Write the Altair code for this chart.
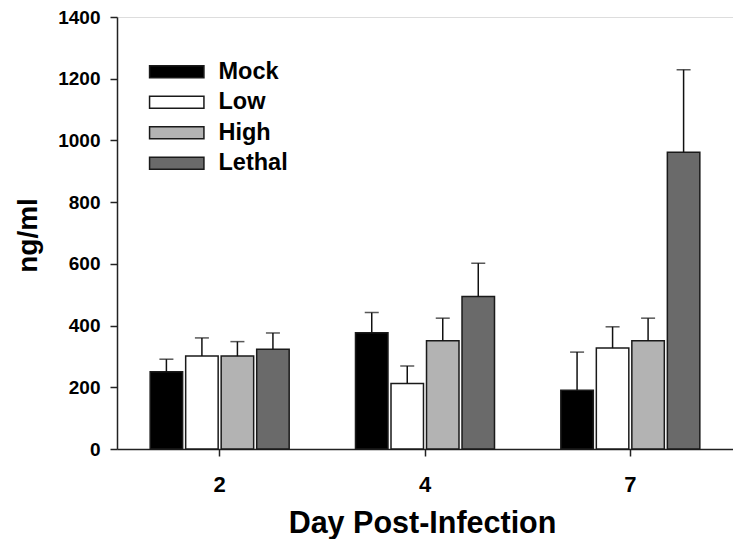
import altair as alt
import pandas as pd

days = ["2", "4", "7"]
groups = ["Mock", "Low", "High", "Lethal"]
colors = ["#000000", "#ffffff", "#b3b3b3", "#6a6a6a"]

# mean values per group, one list per day (order: Mock, Low, High, Lethal)
day2_vals = [250, 301, 301, 323]
day4_vals = [377, 212, 351, 494]
day7_vals = [190, 327, 351, 962]
# upper error bar tops
day2_tops = [291, 360, 348, 376]
day4_tops = [442, 269, 424, 602]
day7_tops = [314, 396, 424, 1229]

rows = []
for d, vals, tops in [("2", day2_vals, day2_tops), ("4", day4_vals, day4_tops), ("7", day7_vals, day7_tops)]:
    for g, v, t in zip(groups, vals, tops):
        rows.append({"day": d, "group": g, "value": v, "top": t})
df = pd.DataFrame(rows)

FONT = "Liberation Sans"

common_axis = dict(labelFont=FONT, labelFontWeight="bold", labelColor="black",
                   titleFont=FONT, titleFontWeight="bold", titleColor="black",
                   tickSize=7, tickWidth=1.5, tickColor="#222", grid=False,
                   domainColor="#222", domainWidth=1.5)

x = alt.X("day:N", sort=days,
          scale=alt.Scale(paddingInner=0.323, paddingOuter=0.1615),
          axis=alt.Axis(title="Day Post-Infection", labelAngle=0, labelFontSize=22,
                        labelPadding=18, titleFontSize=30.5,
                        titleX=305, titleAlign="center",
                        titleY=83, titleBaseline="alphabetic", **common_axis))
xo = alt.XOffset("group:N", sort=groups, scale=alt.Scale(paddingInner=0.085, paddingOuter=0))

y = alt.Y("value:Q", scale=alt.Scale(domain=[0, 1400], nice=False),
          axis=alt.Axis(title="ng/ml", values=list(range(0, 1401, 200)), format="d",
                        labelFontSize=19, labelPadding=10, titleFontSize=28,
                        titleX=-89, titleY=218, titleAngle=-90, titleAlign="center",
                        titleBaseline="middle", **common_axis))

base = alt.Chart(df)

bars = base.mark_bar(stroke="#1a1a1a", strokeWidth=1.5, opacity=1).encode(
    x=x, xOffset=xo, y=y,
    fill=alt.Fill("group:N", sort=groups,
                  scale=alt.Scale(domain=groups, range=colors),
                  legend=alt.Legend(title=None, orient="none", legendX=48, legendY=43,
                                    symbolType="M-4.53,-1L4.53,-1L4.53,1L-4.53,1Z",
                                    symbolSize=144, symbolStrokeColor="#1a1a1a",
                                    symbolStrokeWidth=1.5, symbolOpacity=1,
                                    labelFont=FONT, labelFontSize=23.5, labelFontWeight="bold",
                                    labelColor="black", labelOffset=30, rowPadding=5.5,
                                    padding=0)),
)

rules = base.mark_rule(color="#111", strokeWidth=1.5).encode(
    x=x, xOffset=xo, y=y, y2="top:Q")

caps = base.mark_tick(color="#111", thickness=1.5, size=14).encode(
    x=x, xOffset=xo, y=alt.Y("top:Q"))

chart = alt.layer(bars, rules, caps).properties(
    width=616, height=432,
    padding={"left": 6, "top": 0, "right": 0, "bottom": 0},
).configure_view(stroke="#222", strokeWidth=1.5).configure(background="white")

chart.save("out.html", embed_options={"renderer": "svg", "actions": False})
